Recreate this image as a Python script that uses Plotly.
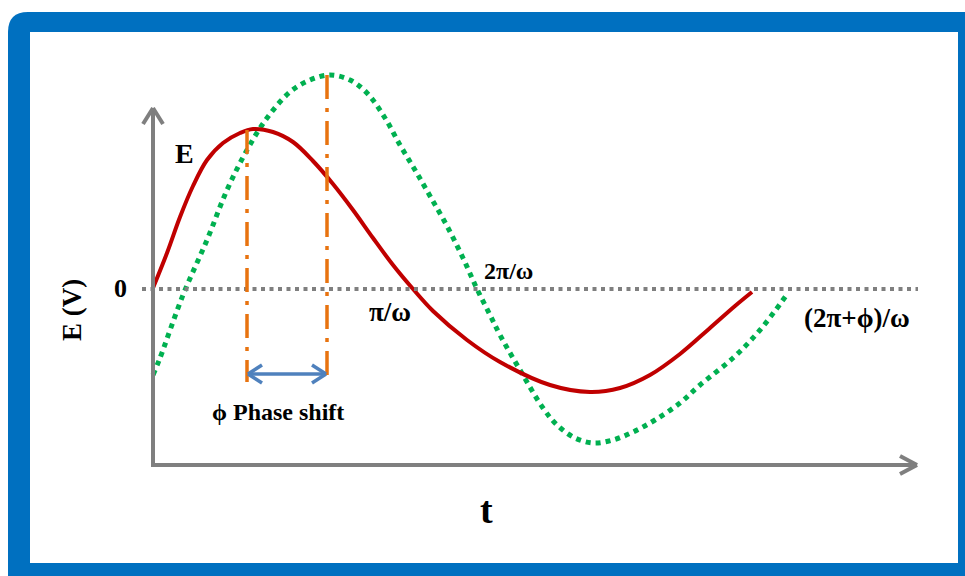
import plotly.graph_objects as go

# Coordinates: t measured from the origin, E measured up from the zero line
# (both in drawing units, 1 unit = 1 screen pixel).
t_red = [0, 14, 27, 40, 54, 70, 87, 100, 120, 140, 160, 180, 200, 220, 240,
         260, 280, 314, 347, 397, 437, 467, 497, 527, 557, 582, 599]
e_red = [1, 36, 72, 103, 129, 146, 156, 160, 157, 147, 128, 105, 79, 51, 24,
         0, -22, -51, -73, -96, -103, -99, -86, -65, -39, -17, -3]

t_green = [0, 7, 30, 54, 74, 94, 114, 137, 157, 177, 197, 214, 232, 247, 262,
           277, 294, 310, 324, 337, 347, 367, 390, 404, 422, 440, 460, 480,
           502, 527, 547, 580, 607, 635]
e_green = [-86, -69, -6, 49, 99, 139, 171, 197, 209, 214, 209, 196, 171, 144,
           119, 93, 63, 31, 0, -26, -46, -81, -119, -136, -149, -154, -151,
           -143, -131, -114, -96, -69, -41, -4]

# Phase-shift markers
t_peaks = [94, 174]
e_peak_top = [159, 214]
e_peak_bottom = [-93, -86]

labels = [
    dict(text="E", t=31, e=136, size=28),
    dict(text="0", t=-33, e=1, size=26),
    dict(text="π/ω", t=237, e=-23, size=27),
    dict(text="2π/ω", t=355, e=18, size=24),
    dict(text="(2π+ϕ)/ω", t=704, e=-29, size=27),
    dict(text="ϕ Phase shift", t=125, e=-123, size=24),
    dict(text="t", t=333, e=-221, size=38),
]

X0, Y0 = 153, 289  # screen position of the origin


def sx(px):
    return px - X0


def sy(py):
    return Y0 - py


fig = go.Figure()

shapes = []
# Blue frame with rounded outer corner
shapes.append(dict(
    type="path", xref="x", yref="y", layer="below",
    path=(f"M {sx(8)},{sy(32)} Q {sx(8)},{sy(12)} {sx(28)},{sy(12)} "
          f"L {sx(990)},{sy(12)} L {sx(990)},{sy(600)} L {sx(8)},{sy(600)} Z"),
    fillcolor="#0070C0", line=dict(width=0)))
shapes.append(dict(
    type="rect", xref="x", yref="y", layer="below",
    x0=sx(30), x1=sx(958), y0=sy(32), y1=sy(563),
    fillcolor="white", line=dict(width=0)))

gray = "#7F7F7F"
# Zero line
shapes.append(dict(type="line", x0=sx(142), x1=sx(918), y0=0, y1=0,
                   line=dict(color=gray, width=4, dash="4px,4.5px")))
# Axes
shapes.append(dict(type="line", x0=0, x1=0, y0=sy(466), y1=sy(109),
                   line=dict(color=gray, width=4)))
shapes.append(dict(type="line", x0=sx(151), x1=sx(917), y0=sy(465), y1=sy(465),
                   line=dict(color=gray, width=4)))
# Arrow heads on the axes
for (x1, y1, x2, y2) in [(143, 124, 153, 108), (163, 124, 153, 108),
                         (900, 456, 917, 465), (900, 474, 917, 465)]:
    shapes.append(dict(type="line", x0=sx(x1), y0=sy(y1), x1=sx(x2), y1=sy(y2),
                       line=dict(color=gray, width=4)))

# Dash-dot markers at the two peaks
orange = "#E8730F"
for tp, top, bot in zip(t_peaks, e_peak_top, e_peak_bottom):
    shapes.append(dict(type="line", x0=tp, x1=tp, y0=top, y1=bot,
                       line=dict(color=orange, width=3.5,
                                 dash="24px,9px,4px,9px")))

# Double-headed phase-shift arrow
blue = "#4F81BD"
ya = -85
shapes.append(dict(type="line", x0=t_peaks[0] + 2, x1=t_peaks[1] - 2, y0=ya, y1=ya,
                   line=dict(color=blue, width=3.5)))
for tip, d in [(t_peaks[0] + 1, 1), (t_peaks[1] - 1, -1)]:
    for dy in (9, -9):
        shapes.append(dict(type="line", x0=tip, y0=ya, x1=tip + d * 14, y1=ya + dy,
                           line=dict(color=blue, width=3.5)))

fig.add_trace(go.Scatter(x=t_green, y=e_green, mode="lines",
                         line=dict(color="#00B050", width=5, dash="5px,5px",
                                   shape="spline", smoothing=1.0),
                         hoverinfo="skip"))
fig.add_trace(go.Scatter(x=t_red, y=e_red, mode="lines",
                         line=dict(color="#C00000", width=4,
                                   shape="spline", smoothing=1.0),
                         hoverinfo="skip"))

font_family = "Liberation Serif, Times New Roman, serif"
annotations = [
    dict(x=lab["t"], y=lab["e"], text=f"<b>{lab['text']}</b>", showarrow=False,
         font=dict(family=font_family, size=lab["size"], color="black"),
         xanchor="center", yanchor="middle")
    for lab in labels
]
annotations.append(dict(x=sx(72), y=sy(310), text="<b>E (V)</b>", showarrow=False,
                        textangle=-90,
                        font=dict(family=font_family, size=27, color="black"),
                        xanchor="center", yanchor="middle"))

fig.update_layout(
    width=965, height=576,
    margin=dict(l=0, r=0, t=0, b=0),
    paper_bgcolor="white", plot_bgcolor="white",
    showlegend=False,
    xaxis=dict(range=[sx(0), sx(965)], visible=False, fixedrange=True),
    yaxis=dict(range=[sy(576), sy(0)], visible=False, fixedrange=True),
    shapes=shapes,
    annotations=annotations,
)

fig.write_html("out.html", config={"displayModeBar": False})
